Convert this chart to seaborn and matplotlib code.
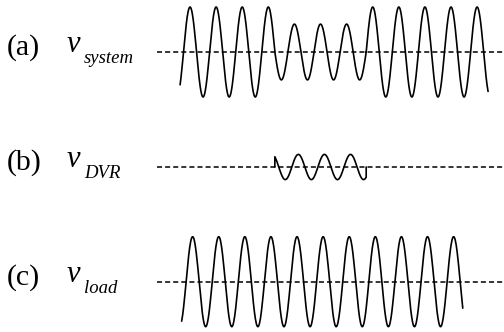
import numpy as np
import pandas as pd
import seaborn as sns
import matplotlib.pyplot as plt

# time axis in cycles of the supply frequency
# system voltage: segment edges and amplitude of each segment (sag in the middle)
sys_edges = [-0.13, 3.5, 7.0, 11.67]
sys_amps = [1.0, 0.62, 1.0]
# DVR injected voltage, only during the sag
dvr_window = [3.5, 7.0]
dvr_amp = 0.28
dvr_phase = 0.15
# load voltage
load_window = [-0.07, 10.70]
load_amp = 1.0
load_phase = 0.1

panel_tags = ['(a)', '(b)', '(c)']
panel_names = ['system', 'DVR', 'load']


def wave(t0, t1, amp, phase=0.0, n=600):
    t = np.linspace(t0, t1, n)
    return t, amp * np.sin(2 * np.pi * (t - phase))


# build the three signals
t_parts, v_parts = [], []
for i, a in enumerate(sys_amps):
    t, v = wave(sys_edges[i], sys_edges[i + 1], a)
    t_parts.append(t)
    v_parts.append(v)
df_sys = pd.DataFrame({'t': np.concatenate(t_parts), 'v': np.concatenate(v_parts)})

t, v = wave(dvr_window[0], dvr_window[1], dvr_amp, dvr_phase)
t = np.concatenate([[dvr_window[0]], t, [dvr_window[1]]])
v = np.concatenate([[0], v, [0]])
df_dvr = pd.DataFrame({'t': t, 'v': v})

t, v = wave(load_window[0], load_window[1], load_amp, load_phase)
df_load = pd.DataFrame({'t': t, 'v': v})

sns.set_style('white')
plt.rcParams['font.family'] = ['Liberation Serif', 'DejaVu Serif']
plt.rcParams['text.color'] = 'black'

fig = plt.figure(figsize=(5.04, 3.32), dpi=100)

# axes placed so that each dashed baseline sits where it does in the figure
centers = [1 - 52 / 332, 1 - 167 / 332, 1 - 281.7 / 332]
h = 108 / 332
frames = [df_sys, df_dvr, df_load]

for c, df, tag, name in zip(centers, frames, panel_tags, panel_names):
    ax = fig.add_axes([157 / 504, c - h / 2, 347 / 504, h])
    ax.axhline(0, color='black', lw=1.1, ls=(0, (3.3, 2.0)))
    sns.lineplot(data=df, x='t', y='v', ax=ax, color='black', lw=1.2,
                 sort=False, estimator=None)
    ax.set_xlim(-1.015, 12.28)
    ax.set_ylim(-1.2, 1.2)
    ax.axis('off')
    ax.patch.set_alpha(0)

    fig.text(7 / 504, c + 0.012, tag, fontsize=21.5, va='center', ha='left')
    fig.text(67 / 504, c + 0.022, 'v', fontsize=22, style='italic',
             va='center', ha='left')
    fig.text(84 / 504, c - 0.02, name, fontsize=13.5, style='italic',
             va='center', ha='left')

fig.savefig('out.png', dpi=100)
plt.close(fig)
